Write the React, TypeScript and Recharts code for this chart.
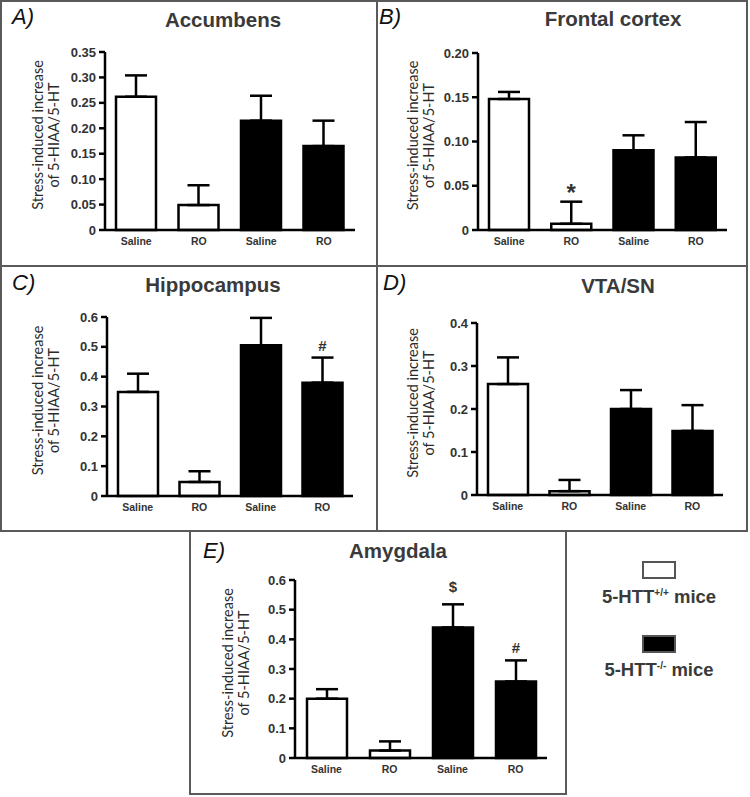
import { Bar, BarChart, Cell, ErrorBar, LabelList, XAxis, YAxis } from 'recharts';

const categories = ['Saline', 'RO', 'Saline', 'RO'];
const genotype = ['wt', 'wt', 'ko', 'ko'];

const accumbensMean = [0.262, 0.049, 0.215, 0.165];
const accumbensErr = [0.042, 0.039, 0.049, 0.05];
const accumbensMarks = ['', '', '', ''];
const accumbensTicks = [0, 0.05, 0.1, 0.15, 0.2, 0.25, 0.3, 0.35];

const frontalMean = [0.148, 0.007, 0.09, 0.082];
const frontalErr = [0.008, 0.025, 0.017, 0.04];
const frontalMarks = ['', '*', '', ''];
const frontalTicks = [0, 0.05, 0.1, 0.15, 0.2];

const hippoMean = [0.349, 0.047, 0.505, 0.38];
const hippoErr = [0.061, 0.036, 0.092, 0.084];
const hippoMarks = ['', '', '', '#'];
const hippoTicks = [0, 0.1, 0.2, 0.3, 0.4, 0.5, 0.6];

const vtaMean = [0.258, 0.009, 0.2, 0.149];
const vtaErr = [0.062, 0.026, 0.044, 0.06];
const vtaMarks = ['', '', '', ''];
const vtaTicks = [0, 0.1, 0.2, 0.3, 0.4];

const amygMean = [0.2, 0.025, 0.44, 0.258];
const amygErr = [0.032, 0.031, 0.078, 0.071];
const amygMarks = ['', '', '$', '#'];
const amygTicks = [0, 0.1, 0.2, 0.3, 0.4, 0.5, 0.6];

const ARIAL = '"Liberation Sans", Arial, sans-serif';
const INK = '#333';

type PanelProps = {
  left: number;
  top: number;
  width: number;
  height: number;
  axisX: number;
  plotTop: number;
  plotBottom: number;
  plotRight: number;
  means: number[];
  errs: number[];
  marks: string[];
  ticks: number[];
  digits: number;
  title: string;
  titleX: number;
  titleY: number;
  letter: string;
  letterX: number;
  letterY: number;
};

function Panel(p: PanelProps) {
  const data = categories.map((c, i) => ({
    id: i,
    label: c,
    mean: p.means[i],
    err: [0, p.errs[i]],
    mark: p.marks[i],
  }));
  const labelCy = (p.plotTop + p.plotBottom) / 2 - 6;

  const renderMark = (props: any) => {
    const { x, y, width, height, index, value } = props;
    if (!value) return null;
    const mean = p.means[index];
    const errPx = (p.errs[index] * height) / mean;
    const big = value === '*';
    const gap = value === '$' ? 12 : big ? 1 : 7;
    return (
      <text
        x={x + width / 2}
        y={y - errPx - gap}
        textAnchor="middle"
        fontFamily={ARIAL}
        fontWeight="bold"
        fontSize={big ? 24 : 15}
        fill={INK}
      >
        {value}
      </text>
    );
  };

  const renderYLabel = () => (
    <text
      transform={`translate(${46}, ${labelCy}) rotate(-90)`}
      textAnchor="middle"
      fontFamily="Lato, sans-serif"
      fontSize={14.5}
      fill="#2b2b2b"
    >
      <tspan x={0} y={-3}>Stress-induced increase</tspan>
      <tspan x={0} y={12.5}>of 5-HIAA/5-HT</tspan>
    </text>
  );

  return (
    <div style={{ position: 'absolute', left: p.left, top: p.top }}>
      <BarChart
        width={p.width}
        height={p.height}
        data={data}
        margin={{ top: p.plotTop, right: p.width - p.plotRight, bottom: 0, left: 0 }}
      >
        <XAxis
          dataKey="id"
          tickFormatter={(v: number) => categories[v]}
          height={p.height - p.plotBottom}
          tickLine={false}
          axisLine={{ stroke: '#000', strokeWidth: 2.5 }}
          tick={{ fontFamily: ARIAL, fontWeight: 'bold', fontSize: 10.5, fill: INK }}
        />
        <YAxis
          width={p.axisX}
          domain={[0, p.ticks[p.ticks.length - 1]]}
          ticks={p.ticks}
          interval={0}
          tickSize={6}
          tickMargin={3}
          tickFormatter={(v: number) => (v === 0 ? '0' : v.toFixed(p.digits))}
          axisLine={{ stroke: '#000', strokeWidth: 2.5 }}
          tickLine={{ stroke: '#000', strokeWidth: 2.5 }}
          tick={{ fontFamily: ARIAL, fontWeight: 'bold', fontSize: 13, fill: INK }}
          label={{ content: renderYLabel }}
        />
        <Bar dataKey="mean" barSize={40} stroke="#000" strokeWidth={2.5} isAnimationActive={false}>
          {data.map((d, i) => (
            <Cell key={d.id} fill={genotype[i] === 'wt' ? '#fff' : '#000'} />
          ))}
          <ErrorBar dataKey="err" width={11} stroke="#000" strokeWidth={2.5} />
          <LabelList dataKey="mark" content={renderMark} />
        </Bar>
      </BarChart>
      <div
        style={{
          position: 'absolute',
          left: p.titleX,
          top: p.titleY,
          transform: 'translate(-50%, -50%)',
          fontFamily: ARIAL,
          fontWeight: 'bold',
          fontSize: 20.5,
          color: '#3a3a3a',
          whiteSpace: 'nowrap',
        }}
      >
        {p.title}
      </div>
      <div
        style={{
          position: 'absolute',
          left: p.letterX,
          top: p.letterY,
          transform: 'translateY(-50%)',
          fontFamily: ARIAL,
          fontStyle: 'italic',
          fontSize: 22,
          color: '#111',
          whiteSpace: 'nowrap',
        }}
      >
        {p.letter}
      </div>
    </div>
  );
}

const box = (left: number, top: number, width: number, height: number) => (
  <div
    style={{
      position: 'absolute',
      left,
      top,
      width,
      height,
      boxSizing: 'border-box',
      border: '2px solid #5a5a5a',
    }}
  />
);

export default function App() {
  return (
    <div
      style={{
        position: 'absolute',
        left: 0,
        top: 0,
        width: 750,
        height: 797,
        background: '#fff',
        overflow: 'hidden',
      }}
    >
      {box(0, 0, 378, 267)}
      {box(376, 0, 372, 267)}
      {box(0, 265, 378, 267)}
      {box(376, 265, 372, 267)}
      {box(189, 530, 378, 265)}

      <Panel
        left={0} top={0} width={375} height={262}
        axisX={105} plotTop={52} plotBottom={230} plotRight={355}
        means={accumbensMean} errs={accumbensErr} marks={accumbensMarks}
        ticks={accumbensTicks} digits={2}
        title="Accumbens" titleX={223} titleY={20}
        letter="A)" letterX={12} letterY={17}
      />
      <Panel
        left={375} top={0} width={375} height={262}
        axisX={103} plotTop={53} plotBottom={230} plotRight={352}
        means={frontalMean} errs={frontalErr} marks={frontalMarks}
        ticks={frontalTicks} digits={2}
        title="Frontal cortex" titleX={238} titleY={19}
        letter="B)" letterX={4} letterY={17}
      />
      <Panel
        left={0} top={265} width={375} height={262}
        axisX={107} plotTop={52} plotBottom={231} plotRight={353}
        means={hippoMean} errs={hippoErr} marks={hippoMarks}
        ticks={hippoTicks} digits={1}
        title="Hippocampus" titleX={213} titleY={20}
        letter="C)" letterX={12} letterY={18}
      />
      <Panel
        left={375} top={265} width={375} height={262}
        axisX={102} plotTop={58} plotBottom={230} plotRight={348}
        means={vtaMean} errs={vtaErr} marks={vtaMarks}
        ticks={vtaTicks} digits={1}
        title="VTA/SN" titleX={243} titleY={21}
        letter="D)" letterX={8} letterY={18}
      />
      <Panel
        left={190} top={528} width={375} height={262}
        axisX={105} plotTop={52} plotBottom={230} plotRight={357}
        means={amygMean} errs={amygErr} marks={amygMarks}
        ticks={amygTicks} digits={1}
        title="Amygdala" titleX={208} titleY={23}
        letter="E)" letterX={13} letterY={23}
      />

      <div
        style={{
          position: 'absolute', left: 642, top: 561, width: 34, height: 18,
          boxSizing: 'border-box', border: '2px solid #555', background: '#fff',
        }}
      />
      <div
        style={{
          position: 'absolute', left: 659, top: 597, transform: 'translate(-50%, -50%)',
          fontFamily: ARIAL, fontWeight: 'bold', fontSize: 18.5, color: '#3a3a3a', whiteSpace: 'nowrap',
        }}
      >
        5-HTT<sup style={{ fontSize: 10 }}>+/+</sup> mice
      </div>
      <div
        style={{
          position: 'absolute', left: 642, top: 635, width: 34, height: 18,
          boxSizing: 'border-box', border: '2px solid #555', background: '#000',
        }}
      />
      <div
        style={{
          position: 'absolute', left: 659, top: 670, transform: 'translate(-50%, -50%)',
          fontFamily: ARIAL, fontWeight: 'bold', fontSize: 18.5, color: '#3a3a3a', whiteSpace: 'nowrap',
        }}
      >
        5-HTT<sup style={{ fontSize: 10 }}>-/-</sup> mice
      </div>
    </div>
  );
}
